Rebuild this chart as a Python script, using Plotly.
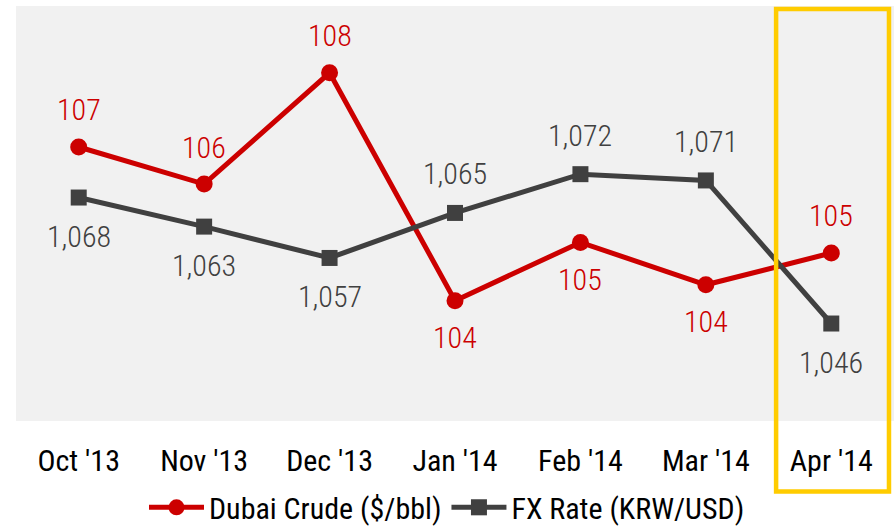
import plotly.graph_objects as go

months = ["Oct '13", "Nov '13", "Dec '13", "Jan '14", "Feb '14", "Mar '14", "Apr '14"]
dubai_crude = [106.8, 106.1, 108.2, 103.9, 105.0, 104.2, 104.8]
fx_rate = [1067.8, 1062.7, 1057.2, 1065.1, 1071.9, 1070.8, 1045.7]
crude_label_pos = [1, 1, 1, -1, -1, -1, 1]   # 1 above, -1 below
fx_label_pos = [-1, -1, -1, 1, 1, 1, -1]

RED = "#CC0000"
DARK = "#404040"
FONT = "Roboto Condensed, Liberation Sans Narrow, Arial Narrow, sans-serif"

fig = go.Figure()
fig.add_trace(go.Scatter(
    x=months, y=dubai_crude, name="Dubai Crude ($/bbl)", mode="lines+markers",
    line=dict(color=RED, width=5), marker=dict(symbol="circle", size=17, color=RED),
    yaxis="y"))
fig.add_trace(go.Scatter(
    x=months, y=fx_rate, name="FX Rate (KRW/USD)", mode="lines+markers",
    line=dict(color=DARK, width=5), marker=dict(symbol="square", size=16, color=DARK),
    yaxis="y2"))

annotations = []
for m, v, p in zip(months, dubai_crude, crude_label_pos):
    annotations.append(dict(x=m, y=v, xref="x", yref="y", text=f"{v:.0f}", showarrow=False,
                            yshift=37 * p, font=dict(family=FONT, size=30, color=RED, weight=300)))
for m, v, p in zip(months, fx_rate, fx_label_pos):
    annotations.append(dict(x=m, y=v, xref="x", yref="y2", text=f"{v:,.0f}", showarrow=False,
                            yshift=39 * p, font=dict(family=FONT, size=30, color=DARK, weight=300)))

fig.update_layout(
    width=894, height=526,
    margin=dict(l=16, r=0, t=6, b=105, autoexpand=False),
    paper_bgcolor="white", plot_bgcolor="#F1F1F1",
    font=dict(family=FONT, size=30, color="#000000"),
    showlegend=True,
    legend=dict(orientation="h", x=0.5, xanchor="center", xref="container",
                y=-0.208, yanchor="middle", yref="paper",
                font=dict(family=FONT, size=30, color="#000000"),
                itemwidth=55, tracegroupgap=0, bgcolor="rgba(0,0,0,0)"),
    xaxis=dict(range=[-0.5, 6.5], showgrid=False, zeroline=False, showline=False,
               ticks="outside", ticklen=13, tickcolor="rgba(0,0,0,0)",
               tickfont=dict(family=FONT, size=30, color="#000000")),
    yaxis=dict(range=[101.63, 109.46], visible=False, showgrid=False),
    yaxis2=dict(range=[1028.6, 1101.4], visible=False, showgrid=False, overlaying="y"),
    annotations=annotations,
    shapes=[dict(type="rect", xref="x", yref="paper", x0=5.5 + 0.06, x1=6.5 - 0.04,
                 y0=-0.17, y1=0.993, line=dict(color="#FFCC00", width=4.5))],
)

fig.write_html("out.html", config={"displayModeBar": False},
               post_script="document.body.style.margin='0';")
